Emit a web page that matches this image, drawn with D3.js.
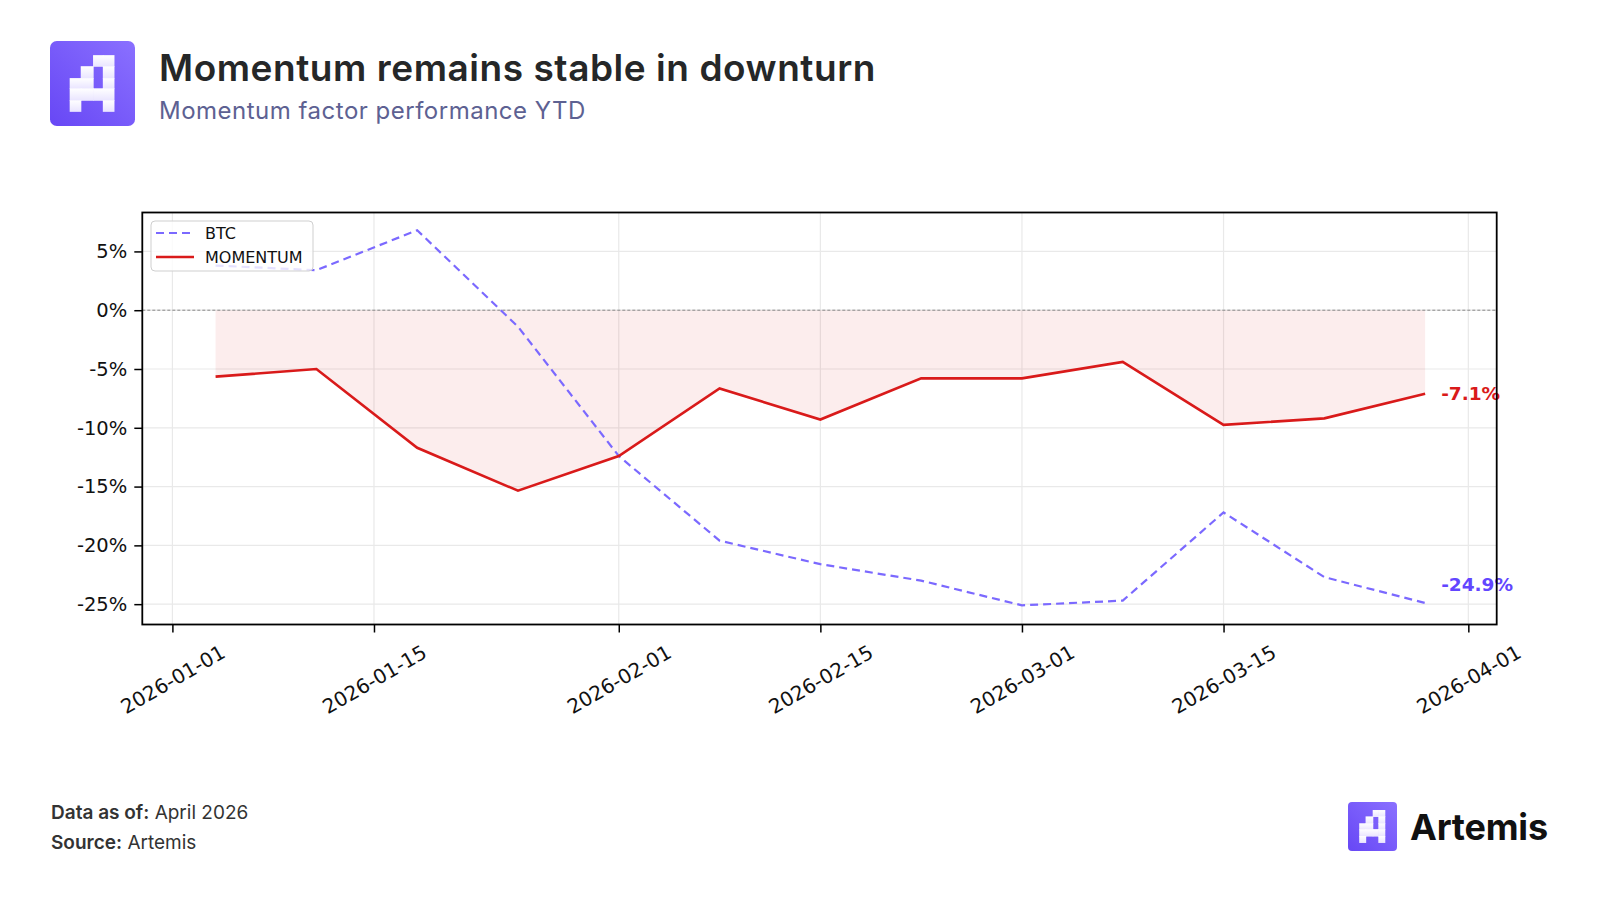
<!DOCTYPE html>
<html>
<head>
<meta charset="utf-8">
<script src="https://cdn.jsdelivr.net/npm/d3@7"></script>
<style>
  html, body { margin: 0; padding: 0; background: #ffffff; }
  svg { display: block; }
</style>
</head>
<body>
<svg id="chart" width="1600" height="900"></svg>
<script>
// ---- data ----
const dates = ["2026-01-04","2026-01-11","2026-01-18","2026-01-25","2026-02-01","2026-02-08","2026-02-15","2026-02-22","2026-03-01","2026-03-08","2026-03-15","2026-03-22","2026-03-29"];
const btcValues = [3.8, 3.4, 6.8, -1.4, -12.4, -19.6, -21.6, -23.0, -25.1, -24.7, -17.2, -22.7, -24.9];
const momentumValues = [-5.65, -5.0, -11.7, -15.35, -12.4, -6.65, -9.3, -5.8, -5.8, -4.4, -9.75, -9.2, -7.1];
const xTickLabels = ["2026-01-01","2026-01-15","2026-02-01","2026-02-15","2026-03-01","2026-03-15","2026-04-01"];
const yTickValues = [5, 0, -5, -10, -15, -20, -25];
const seriesNames = ["BTC", "MOMENTUM"];
const titleText = "Momentum remains stable in downturn";
const subtitleText = "Momentum factor performance YTD";

// ---- layout ----
const svg = d3.select("#chart");
const plot = { left: 142.3, right: 1496.7, top: 212.5, bottom: 624.5 };
const parse = d3.utcParse("%Y-%m-%d");
const DAY = 86400000;
const jan1 = parse("2026-01-01").getTime();

const x = d3.scaleUtc()
  .domain([new Date(jan1 - 2.09 * DAY), new Date(jan1 + 91.97 * DAY)])
  .range([plot.left, plot.right]);
const y = d3.scaleLinear()
  .domain([-26.73, 8.31])
  .range([plot.bottom, plot.top]);

const btcColor = "#7b69ff";
const btcLabelColor = "#6246ff";
const momColor = "#d91a1a";
const pct = v => (Math.round(v * 10) / 10).toFixed(1).replace("\u2212", "-") + "%";
const pct0 = v => String(v) + "%";

const btc = dates.map((d, i) => ({ date: parse(d), v: btcValues[i] }));
const mom = dates.map((d, i) => ({ date: parse(d), v: momentumValues[i] }));
const xTicks = xTickLabels.map(parse);

// ---- header ----
const logo = svg.append("g").attr("transform", "translate(50,41)");
const defs = svg.append("defs");
const lg = defs.append("linearGradient").attr("id", "lgrad")
  .attr("x1", "0").attr("y1", "1").attr("x2", "1").attr("y2", "0");
lg.append("stop").attr("offset", "0").attr("stop-color", "#6747f5");
lg.append("stop").attr("offset", "1").attr("stop-color", "#8a70ff");
const lg2 = defs.append("linearGradient").attr("id", "lgrad2")
  .attr("x1", "0").attr("y1", "0").attr("x2", "0").attr("y2", "1");
lg2.append("stop").attr("offset", "0").attr("stop-color", "#ffffff");
lg2.append("stop").attr("offset", "1").attr("stop-color", "#e9e4ff");

function drawLogo(g, size) {
  g.append("rect").attr("width", size).attr("height", size).attr("rx", size * 0.08)
    .attr("fill", "url(#lgrad)");
  const cells = [[2,0],[3,0],[1,1],[3,1],[0,2],[1,2],[3,2],[0,3],[1,3],[2,3],[3,3],[0,4],[3,4]];
  const cx = [0.235, 0.365, 0.51, 0.625, 0.755];
  const ry = [0.17, 0.30, 0.44, 0.56, 0.70, 0.83];
  const s = size;
  const shape = g.append("g").attr("fill", "url(#lgrad2)");
  cells.forEach(([c, r]) => {
    shape.append("rect")
      .attr("x", cx[c] * s - 0.3).attr("y", ry[r] * s - 0.3)
      .attr("width", (cx[c + 1] - cx[c]) * s + 0.6)
      .attr("height", (ry[r + 1] - ry[r]) * s + 0.6);
  });
}
drawLogo(logo, 85);

svg.append("text").attr("x", 159).attr("y", 81)
  .attr("font-family", "Inter, sans-serif").attr("font-weight", 600)
  .attr("font-size", 37).attr("fill", "#252728").attr("letter-spacing", 0.55)
  .text(titleText);
svg.append("text").attr("x", 159).attr("y", 119)
  .attr("font-family", "Inter, sans-serif").attr("font-weight", 400)
  .attr("font-size", 24).attr("fill", "#5d6192").attr("letter-spacing", 0.5)
  .text(subtitleText);

// ---- chart ----
const g = svg.append("g");
const tickFont = "DejaVu Sans, sans-serif";

// grid
g.append("g").selectAll("line").data(yTickValues).join("line")
  .attr("x1", plot.left).attr("x2", plot.right)
  .attr("y1", d => y(d)).attr("y2", d => y(d))
  .attr("stroke", "#e9e9e9").attr("stroke-width", 1.2);
g.append("g").selectAll("line").data(xTicks).join("line")
  .attr("y1", plot.top).attr("y2", plot.bottom)
  .attr("x1", d => x(d)).attr("x2", d => x(d))
  .attr("stroke", "#e9e9e9").attr("stroke-width", 1.2);

// fill between 0 and momentum
const area = d3.area().x(d => x(d.date)).y0(y(0)).y1(d => y(d.v));
g.append("path").datum(mom).attr("d", area).attr("fill", "#d91a1a").attr("fill-opacity", 0.08);

// zero line
g.append("line").attr("x1", plot.left).attr("x2", plot.right)
  .attr("y1", y(0)).attr("y2", y(0))
  .attr("stroke", "#888").attr("stroke-width", 1).attr("stroke-dasharray", "3,2");

const line = d3.line().x(d => x(d.date)).y(d => y(d.v));
g.append("path").datum(btc).attr("d", line).attr("fill", "none")
  .attr("stroke", btcColor).attr("stroke-width", 2.2).attr("stroke-dasharray", "8,5");
g.append("path").datum(mom).attr("d", line).attr("fill", "none")
  .attr("stroke", momColor).attr("stroke-width", 2.6).attr("stroke-linejoin", "miter");

// end labels
const lastM = mom[mom.length - 1], lastB = btc[btc.length - 1];
g.append("text").attr("x", x(lastM.date) + 16).attr("y", y(lastM.v))
  .attr("dominant-baseline", "central")
  .attr("font-family", tickFont).attr("font-weight", "bold").attr("font-size", 18.5)
  .attr("fill", momColor).text(pct(lastM.v));
g.append("text").attr("x", x(lastB.date) + 16).attr("y", y(lastB.v) - 18)
  .attr("dominant-baseline", "central")
  .attr("font-family", tickFont).attr("font-weight", "bold").attr("font-size", 18.5)
  .attr("fill", btcLabelColor).text(pct(lastB.v));

// axes
const yAxis = d3.axisLeft(y).tickValues(yTickValues).tickSize(8).tickPadding(7)
  .tickFormat(pct0);
const ya = g.append("g").attr("transform", `translate(${plot.left},0)`).call(yAxis);
ya.select(".domain").remove();
ya.selectAll(".tick line").attr("stroke", "#000").attr("stroke-width", 1.5);
ya.selectAll(".tick text").attr("font-family", tickFont).attr("font-size", 19.5).attr("fill", "#111");

const xAxis = d3.axisBottom(x).tickValues(xTicks).tickSize(8).tickFormat(d3.utcFormat("%Y-%m-%d"));
const xa = g.append("g").attr("transform", `translate(0,${plot.bottom})`).call(xAxis);
xa.select(".domain").remove();
xa.selectAll(".tick line").attr("stroke", "#000").attr("stroke-width", 1.5);
xa.selectAll(".tick text")
  .attr("font-family", tickFont).attr("font-size", 20).attr("fill", "#111")
  .attr("y", 0).attr("dy", null)
  .attr("text-anchor", "middle").attr("dominant-baseline", "central")
  .attr("transform", "translate(0,55) rotate(-30)");

// frame
g.append("rect").attr("x", plot.left).attr("y", plot.top)
  .attr("width", plot.right - plot.left).attr("height", plot.bottom - plot.top)
  .attr("fill", "none").attr("stroke", "#000").attr("stroke-width", 1.8);

// legend
const leg = g.append("g").attr("transform", "translate(151,221)");
leg.append("rect").attr("width", 162).attr("height", 50).attr("rx", 4)
  .attr("fill", "#fff").attr("fill-opacity", 0.8).attr("stroke", "#cfcfcf").attr("stroke-width", 1);
const legItems = [
  { name: seriesNames[0], color: btcColor, dash: "8,5", w: 2.2 },
  { name: seriesNames[1], color: momColor, dash: null, w: 2.6 }
];
legItems.forEach((it, i) => {
  const yy = 12 + i * 24;
  leg.append("line").attr("x1", 5).attr("x2", 43).attr("y1", yy).attr("y2", yy)
    .attr("stroke", it.color).attr("stroke-width", it.w).attr("stroke-dasharray", it.dash);
  leg.append("text").attr("x", 54).attr("y", yy).attr("dominant-baseline", "central")
    .attr("font-family", tickFont).attr("font-size", 16).attr("fill", "#111").text(it.name);
});

// ---- footer ----
const foot = svg.append("g").attr("font-family", "Inter, sans-serif").attr("font-size", 19).attr("fill", "#333");
const f1 = foot.append("text").attr("x", 51).attr("y", 819);
f1.append("tspan").attr("font-weight", 600).text("Data as of:");
f1.append("tspan").text(" April 2026");
const f2 = foot.append("text").attr("x", 51).attr("y", 849);
f2.append("tspan").attr("font-weight", 600).text("Source:");
f2.append("tspan").text(" Artemis");

const logo2 = svg.append("g").attr("transform", "translate(1348,802)");
drawLogo(logo2, 49);
svg.append("text").attr("x", 1410).attr("y", 839.5)
  .attr("font-family", "Inter, sans-serif").attr("font-weight", 700)
  .attr("font-size", 36).attr("fill", "#111").attr("letter-spacing", -0.2)
  .text("Artemis");
</script>
</body>
</html>
